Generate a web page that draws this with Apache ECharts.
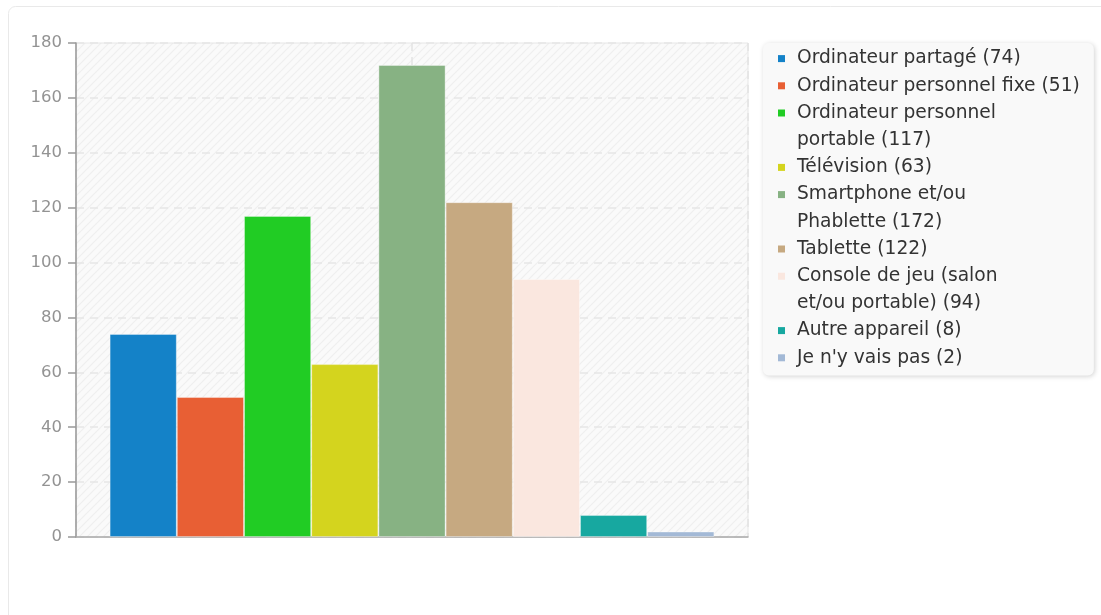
<!DOCTYPE html>
<html>
<head>
<meta charset="utf-8">
<script src="https://cdn.jsdelivr.net/npm/echarts@6/dist/echarts.min.js"></script>
<style>
html,body{margin:0;padding:0;background:#fff;}
#chart{width:1101px;height:615px;}
</style>
</head>
<body>
<div id="chart"></div>
<script>
const names = [
  "Ordinateur partagé",
  "Ordinateur personnel fixe",
  "Ordinateur personnel\nportable",
  "Télévision",
  "Smartphone et/ou\nPhablette",
  "Tablette",
  "Console de jeu (salon\net/ou portable)",
  "Autre appareil",
  "Je n'y vais pas"
];
const values = [74, 51, 117, 63, 172, 122, 94, 8, 2];
const colors = ["#1482c8", "#e85f34", "#21cc24", "#d4d41e", "#87b283", "#c6a981", "#fae7df", "#17a8a0", "#a3b9d6"];
const yTicks = {min: 0, max: 180, interval: 20};

// hatch pattern for the plot background
const pc = document.createElement('canvas');
pc.width = 8; pc.height = 8;
const px = pc.getContext('2d');
px.fillStyle = '#fafafa';
px.fillRect(0, 0, 8, 8);
px.strokeStyle = '#efefef';
px.lineWidth = 1.2;
px.beginPath();
px.moveTo(-1, 9); px.lineTo(9, -1);
px.moveTo(-1, 1); px.lineTo(1, -1);
px.moveTo(7, 9); px.lineTo(9, 7);
px.stroke();

const FS = 18.67, LH = 27.2;
const rich = {
  g: {width: 12, lineHeight: LH, fontSize: FS},
  ind: {width: 19, lineHeight: LH, fontSize: FS},
  t: {fontSize: FS, lineHeight: LH, color: '#333', fontFamily: 'DejaVu Sans'}
};
colors.forEach((c, i) => { rich['c' + i] = {width: 7, height: 7, backgroundColor: c, lineHeight: LH}; });

const series = names.map((n, i) => ({
  name: n,
  type: 'bar',
  data: [values[i]],
  barGap: '0%',
  barCategoryGap: '10%',
  itemStyle: {color: colors[i], borderColor: 'rgba(255,255,255,0.35)', borderWidth: 1},
  emphasis: {disabled: true}
}));

const chart = echarts.init(document.getElementById('chart'), null, {renderer: 'canvas'});
chart.setOption({
  animation: false,
  textStyle: {fontFamily: 'DejaVu Sans'},
  graphic: [{
    type: 'rect', z: -10, silent: true,
    shape: {x: 8.5, y: 6.5, width: 1140, height: 660, r: 7},
    style: {fill: 'none', stroke: '#e9e9e9', lineWidth: 1}
  }],
  grid: {
    left: 76, top: 43, right: 353, bottom: 78,
    show: true, backgroundColor: {image: pc, repeat: 'repeat'},
    borderColor: '#e6e6e6', borderWidth: 1
  },
  legend: {
    orient: 'vertical', left: 763, top: 43,
    padding: [2, 14, 4, 8], itemGap: 0,
    itemWidth: 1, itemHeight: 1, icon: 'rect',
    itemStyle: {opacity: 0},
    backgroundColor: '#f9f9f9', borderRadius: 6,
    shadowBlur: 5, shadowColor: 'rgba(0,0,0,0.18)', shadowOffsetX: 1, shadowOffsetY: 1,
    selectedMode: false,
    data: names,
    formatter: function (name) {
      const i = names.indexOf(name);
      const lines = (name + ' (' + values[i] + ')').split('\n');
      return lines.map((l, k) => (k === 0 ? '{c' + i + '|}{g|}' : '{ind|}') + '{t|' + l + '}').join('\n');
    },
    textStyle: {rich: rich, fontSize: FS, lineHeight: LH, color: '#333', fontFamily: 'DejaVu Sans'}
  },
  xAxis: [{
    type: 'category', data: [''],
    axisLine: {lineStyle: {color: '#aaa', width: 1.5}},
    axisTick: {show: false}, axisLabel: {show: false},
    splitLine: {show: false}
  }, {
    type: 'value', min: 0, max: 2, interval: 1, position: 'top',
    axisLine: {show: false}, axisTick: {show: false}, axisLabel: {show: false},
    splitLine: {show: true, lineStyle: {color: '#e3e3e3', type: [8, 6], width: 1.5}}
  }],
  yAxis: {
    type: 'value', min: yTicks.min, max: yTicks.max, interval: yTicks.interval,
    axisLine: {show: true, lineStyle: {color: '#999', width: 1.5}},
    axisTick: {show: true, length: 8, lineStyle: {color: '#999', width: 1.5}},
    axisLabel: {color: '#939393', fontSize: 16.5, margin: 14, fontFamily: 'DejaVu Sans'},
    splitLine: {show: true, lineStyle: {color: '#e6e6e6', type: [8, 6], width: 1.5}}
  },
  series: series
});
</script>
</body>
</html>
